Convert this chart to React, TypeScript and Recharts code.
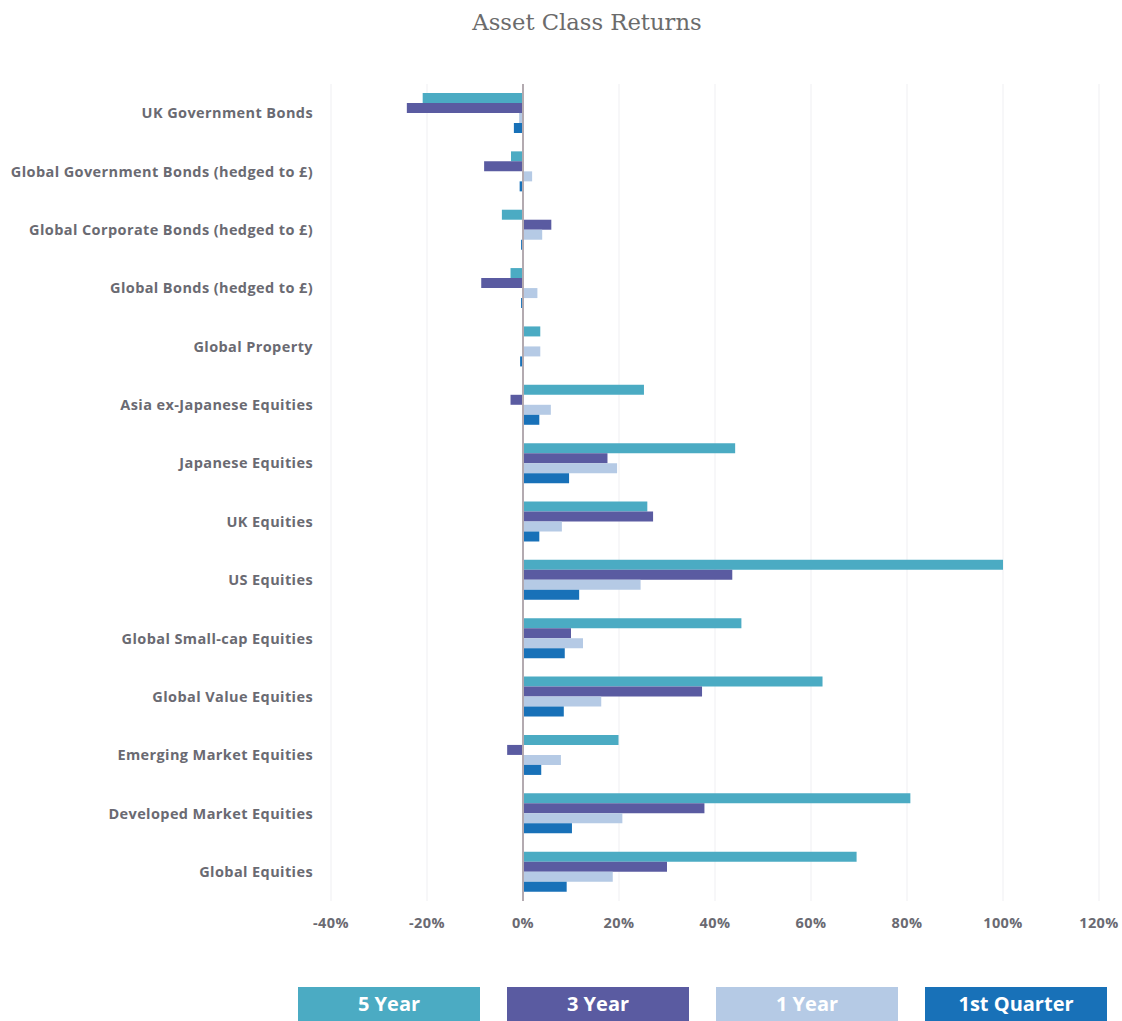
import {
  Bar,
  BarChart,
  CartesianGrid,
  ReferenceLine,
  XAxis,
  YAxis,
} from "recharts";

const categories = [
  "UK Government Bonds",
  "Global Government Bonds (hedged to £)",
  "Global Corporate Bonds (hedged to £)",
  "Global Bonds (hedged to £)",
  "Global Property",
  "Asia ex-Japanese Equities",
  "Japanese Equities",
  "UK Equities",
  "US Equities",
  "Global Small-cap Equities",
  "Global Value Equities",
  "Emerging Market Equities",
  "Developed Market Equities",
  "Global Equities",
];

const fiveYear = [-20.9, -2.5, -4.4, -2.6, 3.6, 25.2, 44.2, 25.9, 100, 45.5, 62.4, 19.9, 80.7, 69.5];
const threeYear = [-24.2, -8.1, 5.9, -8.7, 0, -2.6, 17.6, 27.1, 43.6, 10.0, 37.3, -3.3, 37.8, 30.0];
const oneYear = [-0.8, 1.9, 4.0, 3.0, 3.6, 5.8, 19.6, 8.1, 24.5, 12.5, 16.3, 7.9, 20.7, 18.7];
const firstQuarter = [-1.9, -0.7, -0.4, -0.4, -0.6, 3.4, 9.6, 3.4, 11.7, 8.7, 8.5, 3.8, 10.2, 9.1];

const xTicks = [-40, -20, 0, 20, 40, 60, 80, 100, 120];

const series = [
  { key: "fiveYear", name: "5 Year", color: "#4babc3" },
  { key: "threeYear", name: "3 Year", color: "#5a5ba1" },
  { key: "oneYear", name: "1 Year", color: "#b5cae5" },
  { key: "firstQuarter", name: "1st Quarter", color: "#1871b8" },
];

const data = categories.map((name, i) => ({
  name,
  fiveYear: fiveYear[i],
  threeYear: threeYear[i],
  oneYear: oneYear[i],
  firstQuarter: firstQuarter[i],
}));

const labelFont = "'Open Sans', sans-serif";
const tickStyle = {
  fontSize: 14.5,
  fontWeight: 700,
  fill: "#6a6a72",
  fontFamily: labelFont,
  letterSpacing: 0.4,
};

export default function App() {
  return (
    <div style={{ position: "absolute", left: 0, top: 0, width: 1122, height: 1021, background: "#fff", overflow: "hidden" }}>
      <div
        style={{
          position: "absolute",
          left: 0,
          top: 9,
          width: 1174,
          textAlign: "center",
          fontFamily: "'DejaVu Serif', serif",
          fontSize: 22.7,
          color: "#6b6b6b",
        }}
      >
        Asset Class Returns
      </div>
      <div style={{ position: "absolute", left: 0, top: 0 }}>
        <BarChart
          width={1122}
          height={940}
          data={data}
          layout="vertical"
          margin={{ top: 84, right: 23, bottom: 9, left: 0 }}
          barCategoryGap={9}
          barGap={0}
        >
          <CartesianGrid horizontal={false} stroke="#efeff2" />
          <XAxis
            type="number"
            domain={[-40, 120]}
            ticks={xTicks}
            tickFormatter={(v) => `${v}%`}
            axisLine={false}
            tickLine={false}
            tickSize={0}
            tickMargin={17}
            height={30}
            tick={tickStyle}
          />
          <YAxis
            type="category"
            dataKey="name"
            width={331}
            axisLine={false}
            tickLine={false}
            tickSize={0}
            tickMargin={18}
            interval={0}
            tick={tickStyle}
          />
          {series.map((s) => (
            <Bar
              key={s.key}
              dataKey={s.key}
              name={s.name}
              fill={s.color}
              isAnimationActive={false}
            />
          ))}
          <ReferenceLine x={0} stroke="#b3aab0" strokeWidth={2} />
        </BarChart>
      </div>
      <div style={{ position: "absolute", left: 298, top: 987, display: "flex", gap: 27 }}>
        {series.map((s) => (
          <div
            key={s.key}
            style={{
              width: 182,
              height: 40,
              background: s.color,
              color: "#fff",
              fontFamily: labelFont,
              fontWeight: 700,
              fontSize: 20,
              textAlign: "center",
              lineHeight: "34px",
            }}
          >
            {s.name}
          </div>
        ))}
      </div>
    </div>
  );
}
